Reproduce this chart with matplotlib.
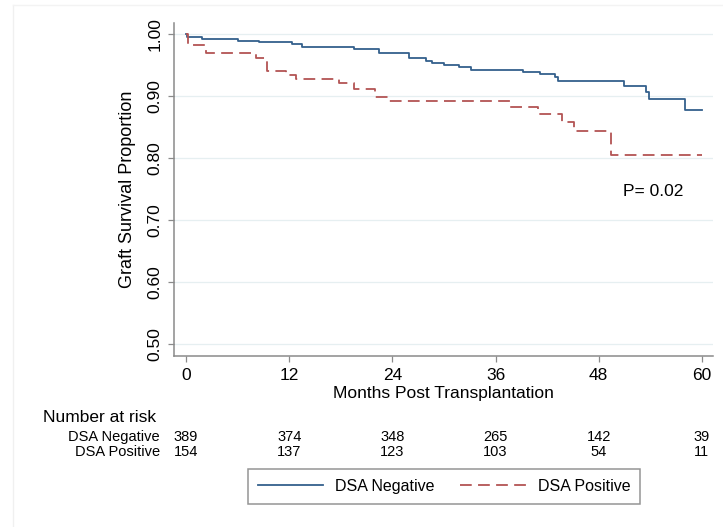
import numpy as np
import matplotlib
matplotlib.use("Agg")
import matplotlib.pyplot as plt
from matplotlib.lines import Line2D

plt.rcParams['font.family'] = ['Liberation Sans', 'DejaVu Sans']

# Kaplan-Meier step data
neg_months = [0, 0.1, 1.9, 6.1, 8.5, 12.3, 13.5, 19.5, 22.4, 25.9, 27.9, 28.6, 30.0,
              31.7, 33.1, 39.2, 41.2, 42.9, 43.3, 51.0, 53.5, 53.9, 58.0, 60.0]
neg_surv = [1.0, 0.996, 0.992, 0.989, 0.987, 0.984, 0.980, 0.976, 0.969, 0.962, 0.957, 0.954, 0.951,
            0.947, 0.943, 0.939, 0.935, 0.931, 0.925, 0.917, 0.907, 0.896, 0.877, 0.877]

pos_months = [0, 0.2, 2.3, 8.1, 9.4, 11.6, 12.8, 17.8, 19.5, 22.0, 23.5, 37.7, 41.0,
              43.7, 45.1, 49.4, 60.0]
pos_surv = [1.0, 0.982, 0.969, 0.961, 0.941, 0.934, 0.927, 0.921, 0.912, 0.898, 0.892, 0.882, 0.872,
            0.859, 0.844, 0.805, 0.805]

risk_times = [0, 12, 24, 36, 48, 60]
risk_neg = [389, 374, 348, 265, 142, 39]
risk_pos = [154, 137, 123, 103, 54, 11]
y_ticks = [0.5, 0.6, 0.7, 0.8, 0.9, 1.0]

blue = '#34608c'
red = '#b35454'
axis_grey = '#8a8a8a'

fig = plt.figure(figsize=(7.23, 5.27), dpi=100)
ax = fig.add_axes([174/723, 1 - 356/527, (713-174)/723, (356-23)/527])

ax.step(neg_months, neg_surv, where='post', color=blue, lw=1.3)
ax.step(pos_months, pos_surv, where='post', color=red, lw=1.3, dashes=(6.5, 3.5))

ax.set_xlim(-1.4, 61.3)
ax.set_ylim(0.481, 1.018)
ax.set_xticks(risk_times)
ax.set_yticks(y_ticks)
ax.set_yticklabels(['%.2f' % v for v in y_ticks], rotation=90, va='center')
ax.grid(axis='y', color='#e6eff1', lw=0.9)
ax.set_axisbelow(True)

for s in ['top', 'right']:
    ax.spines[s].set_visible(False)
for s in ['left', 'bottom']:
    ax.spines[s].set_color(axis_grey)
    ax.spines[s].set_linewidth(1.1)
ax.tick_params(color=axis_grey, length=4.5, width=0.9, labelsize=12.5, pad=4)

ax.set_xlabel('Months Post Transplantation', fontsize=12.5, labelpad=2)
ax.set_ylabel('Graft Survival Proportion', fontsize=13, labelpad=8)

ax.text(54.3, 0.747, 'P= 0.02', fontsize=12.5, ha='center', va='center')

# number at risk table
fig.text(43/723, 1 - 417/527, 'Number at risk', fontsize=12.5, ha='left', va='center')
row_y = [437, 452.5]
for lab, counts, yy in zip(['DSA Negative', 'DSA Positive'], [risk_neg, risk_pos], row_y):
    fig.text(160/723, 1 - yy/527, lab, fontsize=10.5, ha='right', va='center')
    for t, c in zip(risk_times, counts):
        xf = ax.transData.transform((t, 0.5))[0] / fig.bbox.width
        fig.text(xf, 1 - yy/527, str(c), fontsize=10.5, ha='center', va='center')

handles = [Line2D([], [], color=blue, lw=1.3),
           Line2D([], [], color=red, lw=1.3, dashes=(6.5, 3.5))]
leg = fig.legend(handles, ['DSA Negative', 'DSA Positive'], ncol=2,
                 loc='center', bbox_to_anchor=(444/723, 1 - 486.5/527),
                 fontsize=11.5, handlelength=4.1, columnspacing=1.6,
                 frameon=True, fancybox=False, borderpad=0.6, handletextpad=0.75)
leg.get_frame().set_edgecolor('#7a7a7a')
leg.get_frame().set_linewidth(1.1)

# faint frame of the original screenshot
fig.add_artist(Line2D([13/723, 13/723], [0, 1 - 5/527], color='#f0f0f0', lw=1))
fig.add_artist(Line2D([13/723, 1], [1 - 5/527, 1 - 5/527], color='#f3f3f3', lw=1))

fig.savefig('out.png', dpi=100)
